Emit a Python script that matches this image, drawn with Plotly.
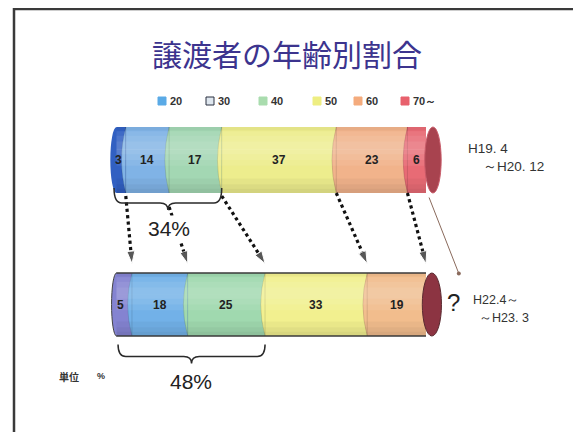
import plotly.graph_objects as go

# ---------------- data ----------------
periods = ["H19.4～H20.12", "H22.4～H23.3"]
age_groups = ["20", "30", "40", "50", "60", "70～"]
share_h19 = [3, 14, 17, 37, 23, 6]          # H19.4 ～ H20.12 (%)
share_h22 = [5, 18, 25, 33, 19, None]       # H22.4 ～ H23.3 (%)

colors_h19 = ["#3160c2", "#80b3e6", "#a3d7b3", "#eded8d", "#f1b38b", "#e86b75"]
colors_h22 = ["#8483d1", "#72b1e8", "#a0d9af", "#f2f08f", "#f2bd8d", "#8c3442"]
legend_colors = ["#5aaae6", "#dfe7ef", "#a9dcae", "#eeee82", "#f4ab7d", "#e8616d"]

# ---------------- geometry (layout only) ----------------
OFF = 8                          # page body margin
W, H = 581 - OFF, 432 - OFF      # figure size
PXX = 3.095                      # screen px per percent
X0S = 116.5                      # screen x of 0 %
PX = 144.5                       # screen px per y unit
Y_TOP, Y_BOT = 1.0, 0.0
WID_TOP, WID_BOT = 66 / PX, 63 / PX
XMIN, XMAX = (OFF - X0S) / PXX, (581 - X0S) / PXX
YMAX, YMIN = (304.5 - OFF) / PX, (304.5 - 432) / PX


def px(sx):
    return (sx - OFF) / W


def py(sy):
    return 1 - (sy - OFF) / H


def cum(vals):
    out, s = [0], 0
    for v in vals:
        if v is None:
            break
        s += v
        out.append(s)
    return out


cum_top = cum(share_h19)
cum_bot = cum(share_h22)

fig = go.Figure()

# stacked cylinder bars
for i, g in enumerate(age_groups):
    xs = [share_h19[i], share_h22[i]]
    fig.add_trace(go.Bar(
        x=xs, y=[Y_TOP, Y_BOT], orientation="h",
        width=[WID_TOP, WID_BOT],
        marker=dict(color=[colors_h19[i], colors_h22[i]], line=dict(width=0)),
        name=g, hoverinfo="skip", showlegend=False,
    ))

shapes = []
annotations = []

# left rounded ends (behind bars)
shapes.append(dict(type="circle", xref="x", yref="y", x0=-2.0, x1=2.0,
                   y0=Y_TOP - WID_TOP / 2, y1=Y_TOP + WID_TOP / 2,
                   fillcolor=colors_h19[0], line=dict(width=0), layer="below"))
shapes.append(dict(type="circle", xref="x", yref="y", x0=-1.6, x1=1.6,
                   y0=Y_BOT - WID_BOT / 2, y1=Y_BOT + WID_BOT / 2,
                   fillcolor=colors_h22[0], line=dict(color="#444", width=1), layer="below"))


# curved segment boundaries
def bulges(cums, cols, yc, w, d):
    for k in range(1, len(cums) - 1):
        xc = cums[k]
        t, b = yc + w / 2, yc - w / 2
        shapes.append(dict(type="path", xref="x", yref="y",
                           path=f"M {xc},{t} Q {xc - 2 * d},{yc} {xc},{b} Z",
                           fillcolor=cols[k], line=dict(color="rgba(0,0,0,0.12)", width=1),
                           layer="above"))


bulges(cum_top, colors_h19, Y_TOP, WID_TOP, 1.4)
bulges(cum_bot, colors_h22, Y_BOT, WID_BOT, 1.4)

# soft cylinder shading (stacked translucent bands)
for yc, w, end in [(Y_TOP, WID_TOP, cum_top[-1]), (Y_BOT, WID_BOT, cum_bot[-1])]:
    top, bot = yc + w / 2, yc - w / 2
    for a, b in [(-0.04, 0.03), (0.0, 0.06), (0.04, 0.10), (0.07, 0.15)]:
        shapes.append(dict(type="rect", xref="x", yref="y", x0=0, x1=end,
                           y0=yc + a, y1=top - b,
                           fillcolor="white", opacity=0.07, line=dict(width=0), layer="above"))
    for h in (0.03, 0.06, 0.10):
        shapes.append(dict(type="rect", xref="x", yref="y", x0=0, x1=end,
                           y0=bot, y1=bot + h,
                           fillcolor="black", opacity=0.035, line=dict(width=0), layer="above"))
    shapes.append(dict(type="rect", xref="x", yref="y", x0=0, x1=end,
                       y0=top - 0.025, y1=top,
                       fillcolor="black", opacity=0.04, line=dict(width=0), layer="above"))

# bottom bar outline
for yy in (Y_BOT + WID_BOT / 2, Y_BOT - WID_BOT / 2):
    shapes.append(dict(type="line", xref="x", yref="y", x0=0, x1=cum_bot[-1],
                       y0=yy, y1=yy, line=dict(color="#3a3a3a", width=1.6), layer="above"))

# right end caps
shapes.append(dict(type="circle", xref="x", yref="y", x0=99.6, x1=104.9,
                   y0=Y_TOP - WID_TOP / 2, y1=Y_TOP + WID_TOP / 2,
                   fillcolor="#a8434f", line=dict(color="#c85a68", width=1), layer="above"))
shapes.append(dict(type="circle", xref="x", yref="y", x0=98.8, x1=105.0,
                   y0=Y_BOT - WID_BOT / 2, y1=Y_BOT + WID_BOT / 2,
                   fillcolor=colors_h22[5], line=dict(color="#5a2a30", width=1), layer="above"))

# value labels on the segments
for cums, vals, yc in [(cum_top, share_h19, Y_TOP), (cum_bot, share_h22, Y_BOT)]:
    for k, v in enumerate(vals):
        if v is None:
            continue
        xm = cums[k] + v / 2
        if k == 0:
            xm = cums[k] + v / 4
        annotations.append(dict(x=xm, y=yc, xref="x", yref="y", text=f"<b>{v}</b>",
                                showarrow=False, xanchor="center", yanchor="middle",
                                font=dict(family="Liberation Sans, Arial", size=12, color="#222222")))


# braces
def brace(x0, x1, y0, yb, ytip, r=2.5):
    xm = (x0 + x1) / 2
    return (f"M {x0},{y0} Q {x0},{yb} {x0 + r},{yb} L {xm - r},{yb} "
            f"Q {xm},{yb} {xm},{ytip} Q {xm},{yb} {xm + r},{yb} "
            f"L {x1 - r},{yb} Q {x1},{yb} {x1},{y0}")


top_sum = sum(share_h19[:3])
bot_sum = sum(share_h22[:3])
shapes.append(dict(type="path", xref="x", yref="y",
                   path=brace(-0.8, cum_top[3], 1 - 28 / PX, 1 - 43 / PX, 1 - 50 / PX),
                   line=dict(color="#2a2a2a", width=1.5)))
shapes.append(dict(type="path", xref="x", yref="y",
                   path=brace(0.5, cum_bot[3], -40 / PX, -52 / PX, -59 / PX),
                   line=dict(color="#2a2a2a", width=1.5)))

# slide frame
shapes.append(dict(type="rect", xref="paper", yref="paper",
                   x0=px(14), x1=1.2, y0=-0.2, y1=py(9),
                   line=dict(color="#3a3a3a", width=2.5), layer="below"))

# dotted arrows
arrow_from = [cum_top[1], cum_top[3] / 2, cum_top[3], cum_top[4], cum_top[5]]
arrow_to = [cum_bot[1], cum_bot[2], cum_bot[3], cum_bot[4], cum_bot[5]]
y_start = [1 - 36 / PX, 1 - 47 / PX, 1 - 36 / PX, 1 - 33 / PX, 1 - 33 / PX]
y_end = 41 / PX
for xa, xb, ya in zip(arrow_from, arrow_to, y_start):
    fig.add_trace(go.Scatter(
        x=[xa, xb], y=[ya, y_end], mode="lines+markers",
        line=dict(color="#111111", width=3.2, dash="dot"),
        marker=dict(symbol="arrow", size=[0, 13], angleref="previous", color="#111111"),
        hoverinfo="skip", showlegend=False,
    ))

# thin arrow to "?"
annotations.append(dict(x=110.6, y=31 / PX, xref="x", yref="y",
                        ax=100.8, ay=1 - 36 / PX, axref="x", ayref="y",
                        text="", showarrow=True, arrowhead=6, arrowsize=1,
                        arrowwidth=1, arrowcolor="#8a6a5c"))

# title
annotations.append(dict(x=px(287), y=py(53), xref="paper", yref="paper",
                        xanchor="center", yanchor="middle",
                        text="譲渡者の年齢別割合", showarrow=False,
                        font=dict(family="Noto Sans CJK JP", size=30, color="#3c348e")))

# custom legend
leg_x = [162, 210, 263, 317, 358, 405]
for lx, lab, col in zip(leg_x, age_groups, legend_colors):
    shapes.append(dict(type="rect", xref="paper", yref="paper",
                       x0=px(lx - 4), x1=px(lx + 4),
                       y0=py(105), y1=py(97), fillcolor=col,
                       line=dict(color="#2a3040" if lab == "30" else col, width=1)))
    annotations.append(dict(x=px(lx + 6), y=py(101), xref="paper", yref="paper",
                            xanchor="left", yanchor="middle", text=f"<b>{lab}</b>", showarrow=False,
                            font=dict(family="Liberation Sans, Arial", size=11, color="#333333")))

# percentage labels
annotations.append(dict(x=cum_top[3] / 2, y=1 - 68 / PX, xref="x", yref="y",
                        xanchor="center", yanchor="middle",
                        text=f"{top_sum}%", showarrow=False, bgcolor="white",
                        font=dict(family="Liberation Sans, Arial", size=21, color="#222222")))
annotations.append(dict(x=cum_bot[3] / 2, y=-77 / PX, xref="x", yref="y",
                        xanchor="center", yanchor="middle",
                        text=f"{bot_sum}%", showarrow=False,
                        font=dict(family="Liberation Sans, Arial", size=21, color="#222222")))

# period labels and notes
txt = dict(family="Liberation Sans, Arial", color="#333333")
notes = [
    dict(x=px(466), y=py(149), text="H19. 4", font=dict(size=13.5, **txt)),
    dict(x=px(481), y=py(166), text="～H20. 12", font=dict(size=13.5, **txt)),
    dict(x=px(471), y=py(300), text="H22.4～", font=dict(size=12.5, **txt)),
    dict(x=px(477), y=py(318), text="～H23. 3", font=dict(size=12.5, **txt)),
    dict(x=px(445), y=py(302), text="?", font=dict(family="Liberation Sans, Arial", size=24, color="#222222")),
    dict(x=px(57), y=py(376), text="<b>単位</b>", font=dict(family="Noto Sans CJK JP", size=10, color="#333333")),
    dict(x=px(95), y=py(376), text="<b>%</b>", font=dict(family="Liberation Sans, Arial", size=9, color="#333333")),
]
for a in notes:
    a.update(xref="paper", yref="paper", xanchor="left", yanchor="middle", showarrow=False)
annotations += notes

fig.update_layout(
    width=W, height=H,
    margin=dict(l=0, r=0, t=0, b=0),
    paper_bgcolor="white", plot_bgcolor="rgba(0,0,0,0)",
    barmode="stack", bargap=0,
    showlegend=False,
    xaxis=dict(domain=[0, 1], range=[XMIN, XMAX], visible=False, fixedrange=True),
    yaxis=dict(domain=[0, 1], range=[YMIN, YMAX], visible=False, fixedrange=True),
    shapes=shapes, annotations=annotations,
)

fig.write_html("out.html")
